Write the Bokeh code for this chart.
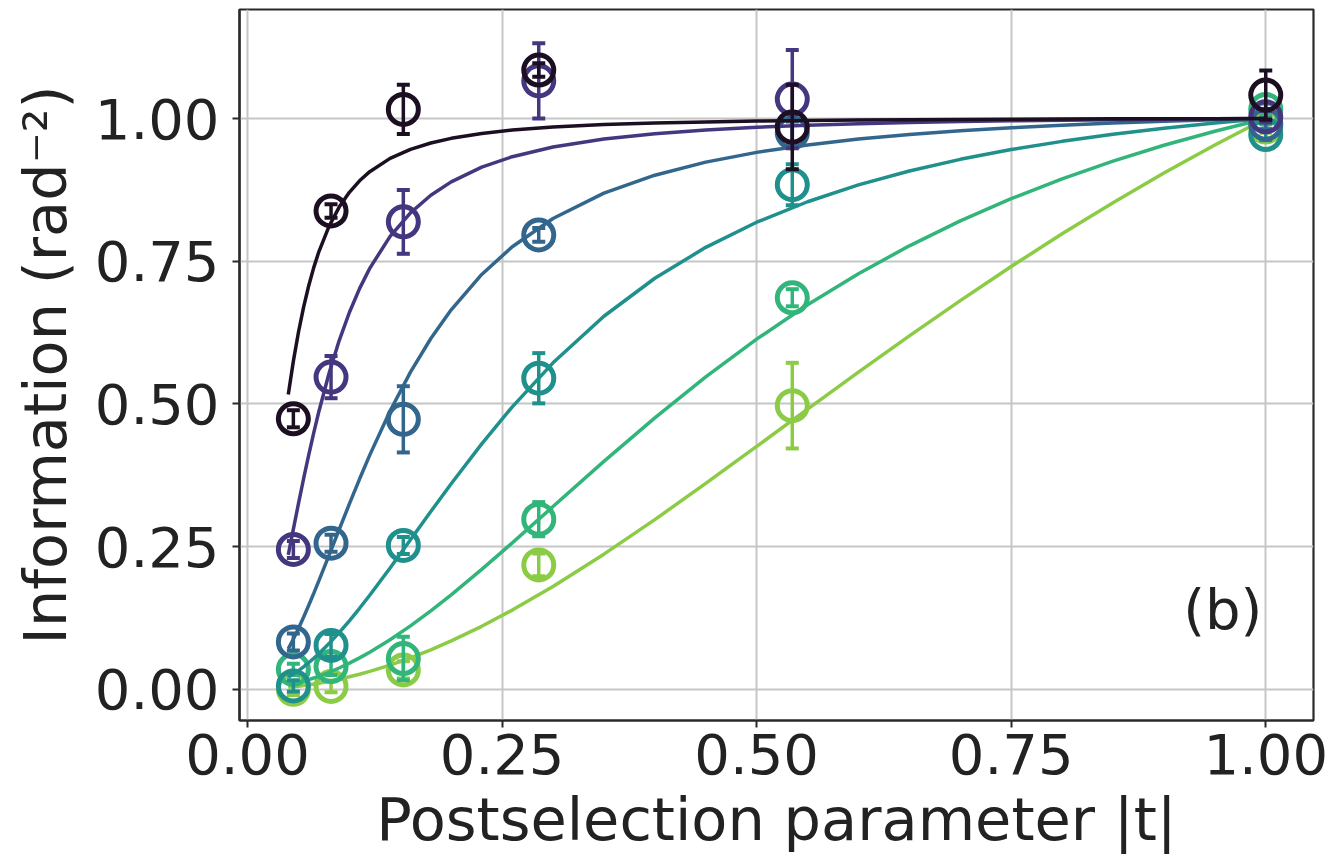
from bokeh.plotting import figure
from bokeh.models import Range1d, FixedTicker, PrintfTickFormatter, Label
from bokeh.embed import file_html
from bokeh.resources import INLINE

# Measured points: postselection parameter |t| and information (rad^-2)
t_meas = [0.045, 0.082, 0.153, 0.286, 0.535, 1.0]

info_0 = [0.474, 0.838, 1.016, 1.085, 0.985, 1.041]
err_0 = [0.015, 0.012, 0.043, 0.012, 0.074, 0.043]
info_1 = [0.245, 0.547, 0.819, 1.066, 1.034, 1.003]
err_1 = [0.015, 0.037, 0.056, 0.066, 0.086, 0.010]
info_2 = [0.083, 0.256, 0.473, 0.796, 0.975, 0.990]
err_2 = [0.015, 0.015, 0.058, 0.012, 0.020, 0.010]
info_3 = [0.006, 0.077, 0.252, 0.545, 0.884, 0.972]
err_3 = [0.010, 0.020, 0.015, 0.044, 0.036, 0.010]
info_4 = [0.035, 0.040, 0.054, 0.298, 0.686, 1.016]
err_4 = [0.010, 0.015, 0.038, 0.030, 0.015, 0.010]
info_5 = [0.000, 0.005, 0.034, 0.218, 0.497, 0.985]
err_5 = [0.010, 0.010, 0.015, 0.020, 0.075, 0.010]

# Fitted curves sampled along |t|
t_fit = [0.04, 0.045, 0.05, 0.055, 0.06, 0.065, 0.07, 0.08, 0.09, 0.10, 0.11,
         0.12, 0.14, 0.16, 0.18, 0.20, 0.23, 0.26, 0.30, 0.35, 0.40, 0.45,
         0.50, 0.55, 0.60, 0.65, 0.70, 0.75, 0.80, 0.85, 0.90, 0.95, 1.00]

fit_0 = [0.5165, 0.5750, 0.6256, 0.6692, 0.7066, 0.7388, 0.7665, 0.8111, 0.8448,
         0.8707, 0.8909, 0.9069, 0.9302, 0.9460, 0.9571, 0.9653, 0.9738, 0.9797,
         0.9851, 0.9894, 0.9922, 0.9941, 0.9955, 0.9966, 0.9973, 0.9980, 0.9984,
         0.9988, 0.9992, 0.9994, 0.9996, 0.9998, 1.0]
fit_1 = [0.2356, 0.2807, 0.3252, 0.3685, 0.4100, 0.4493, 0.4864, 0.5533, 0.6110,
         0.6602, 0.7020, 0.7375, 0.7936, 0.8348, 0.8656, 0.8890, 0.9148, 0.9331,
         0.9500, 0.9641, 0.9734, 0.9799, 0.9846, 0.9882, 0.9908, 0.9929, 0.9946,
         0.9960, 0.9971, 0.9980, 0.9988, 0.9994, 1.0]
fit_2 = [0.0709, 0.0881, 0.1066, 0.1262, 0.1468, 0.1681, 0.1899, 0.2347, 0.2800,
         0.3248, 0.3684, 0.4103, 0.4877, 0.5558, 0.6146, 0.6649, 0.7268, 0.7754,
         0.8249, 0.8692, 0.9007, 0.9236, 0.9407, 0.9538, 0.9640, 0.9721, 0.9786,
         0.9839, 0.9883, 0.9920, 0.9951, 0.9977, 1.0]
fit_3 = [0.0212, 0.0267, 0.0328, 0.0394, 0.0466, 0.0542, 0.0624, 0.0801, 0.0994,
         0.1201, 0.1420, 0.1649, 0.2127, 0.2620, 0.3115, 0.3602, 0.4301, 0.4949,
         0.5720, 0.6536, 0.7202, 0.7743, 0.8183, 0.8542, 0.8837, 0.9081, 0.9285,
         0.9456, 0.9600, 0.9724, 0.9829, 0.9921, 1.0]
fit_4 = [0.0076, 0.0096, 0.0118, 0.0142, 0.0169, 0.0198, 0.0229, 0.0298, 0.0374,
         0.0459, 0.0551, 0.0651, 0.0869, 0.1112, 0.1375, 0.1656, 0.2101, 0.2566,
         0.3202, 0.3993, 0.4756, 0.5473, 0.6135, 0.6738, 0.7282, 0.7770, 0.8206,
         0.8596, 0.8944, 0.9254, 0.9531, 0.9778, 1.0]
fit_5 = [0.0036, 0.0045, 0.0055, 0.0067, 0.0080, 0.0093, 0.0108, 0.0141, 0.0178,
         0.0220, 0.0265, 0.0315, 0.0425, 0.0552, 0.0693, 0.0848, 0.1104, 0.1388,
         0.1802, 0.2368, 0.2974, 0.3607, 0.4255, 0.4908, 0.5556, 0.6192, 0.6810,
         0.7407, 0.7980, 0.8526, 0.9045, 0.9536, 1.0]

x_ticks = [0.0, 0.25, 0.5, 0.75, 1.0]
y_ticks = [0.0, 0.25, 0.5, 0.75, 1.0]

colors = ["#1c0f22", "#45377f", "#33668d", "#20908c", "#32b57a", "#8ccb45"]
infos = [info_0, info_1, info_2, info_3, info_4, info_5]
errs = [err_0, err_1, err_2, err_3, err_4, err_5]
fits = [fit_0, fit_1, fit_2, fit_3, fit_4, fit_5]

FONT = "DejaVu Sans"
INK = "#222222"

p = figure(width=1330, height=860, output_backend="svg", toolbar_location=None,
           x_range=Range1d(-0.0079, 1.0469), y_range=Range1d(-0.0546, 1.191),
           min_border_left=239, min_border_right=17, min_border_top=9,
           min_border_bottom=140)

p.background_fill_color = "white"
p.border_fill_color = "white"
p.outline_line_color = "#2a2a2a"
p.outline_line_width = 2.2

p.xaxis.ticker = FixedTicker(ticks=x_ticks)
p.yaxis.ticker = FixedTicker(ticks=y_ticks)
p.axis.formatter = PrintfTickFormatter(format="%.2f")
p.axis.major_label_text_font = FONT
p.axis.major_label_text_font_size = "56px"
p.axis.major_label_text_color = INK
p.axis.axis_line_color = "#2a2a2a"
p.axis.axis_line_width = 2.2
p.axis.major_tick_line_color = "#2a2a2a"
p.axis.major_tick_line_width = 2
p.axis.major_tick_in = 0
p.axis.major_tick_out = 7
p.axis.minor_tick_line_color = None
p.xaxis.major_label_standoff = 6
p.yaxis.major_label_standoff = 13

p.axis.axis_label_text_font = FONT
p.axis.axis_label_text_font_size = "59px"
p.axis.axis_label_text_font_style = "normal"
p.axis.axis_label_text_color = INK
p.yaxis.axis_label = "Information (rad\u207b\u00b2)"
p.yaxis.axis_label_standoff = 12
p.xaxis.axis_label = "Postselection parameter |t|"
p.xaxis.axis_label_standoff = 8

p.grid.grid_line_color = "#c6c6c6"
p.grid.grid_line_width = 2

# Fits, error bars and markers, last series underneath
for i in reversed(range(6)):
    c = colors[i]
    y = infos[i]
    lo = [v - e for v, e in zip(y, errs[i])]
    hi = [v + e for v, e in zip(y, errs[i])]
    p.line(t_fit, fits[i], line_color=c, line_width=3.5)
    p.segment(x0=t_meas, y0=lo, x1=t_meas, y1=hi, line_color=c, line_width=3.5)
    p.scatter(t_meas, lo, marker="dash", size=13, line_color=c, line_width=4)
    p.scatter(t_meas, hi, marker="dash", size=13, line_color=c, line_width=4)
    p.scatter(t_meas, y, marker="circle", size=30, fill_color=None,
              line_color=c, line_width=5)

# Panel tag
p.add_layout(Label(x=0.9967, y=0.139, text="(b)", text_font=FONT,
                   text_font_size="56px", text_color=INK, text_align="right",
                   text_baseline="middle"))

open("out.html", "w").write(file_html(p, INLINE))
